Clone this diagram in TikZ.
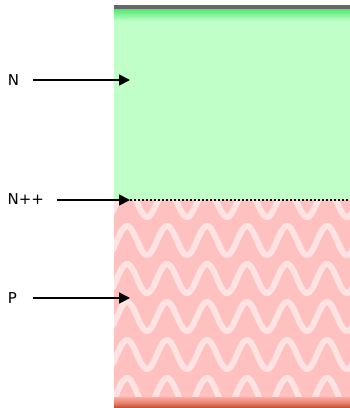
\documentclass[tikz,border=0pt]{standalone}
\usepackage{fontspec}
\setmainfont{DejaVu Sans}
\usetikzlibrary{arrows.meta}
\definecolor{nfill}{RGB}{192,255,200}
\definecolor{ntop}{RGB}{80,232,112}
\definecolor{pfill}{RGB}{255,192,192}
\definecolor{wavec}{RGB}{255,226,226}
\definecolor{pbot}{RGB}{196,72,40}
\definecolor{pmid}{RGB}{232,128,104}
\definecolor{topbar}{RGB}{102,102,102}
\tikzset{
  lbl/.style={inner sep=0pt, font=\fontsize{15}{17}\selectfont},
  pointer/.style={line width=1.6pt, -{Triangle[length=11pt,width=11pt]}},
  junction/.style={line width=1.5pt, dash pattern=on 2pt off 2pt},
  wave/.style={line width=6pt, wavec}
}
\begin{document}
\begin{tikzpicture}[x=1pt,y=-1pt]
\useasboundingbox (0,0) rectangle (350,408);
% N region
\fill[nfill] (114,9) rectangle (350,200);
\shade[top color=ntop,bottom color=nfill] (114,9) rectangle (350,21);
\fill[topbar] (114,5) rectangle (350,9);
% P region
\fill[pfill] (114,200) rectangle (350,398);
\begin{scope}
  \clip (114,200) rectangle (350,398);
  \foreach \c in {202.5,240.5,278.5,316.5,354.5,392.5}{
    \draw[wave] plot[domain=-33:233,samples=240] ({\x+127},{\c-14.5*cos(9*\x)});
  }
\end{scope}
\shade[top color=pfill!70!pmid,bottom color=pmid] (114,397) rectangle (350,403);
\shade[top color=pmid,bottom color=pbot] (114,403) rectangle (350,408);
% junction
\coordinate (jl) at (114,200);
\coordinate (jr) at (350,200);
\draw[junction] (jl) -- (jr);
% labels
\node[lbl] (lN) at (13.5,80) {N};
\node[lbl,anchor=west] (lNpp) at (7.5,199.5) {N++};
\node[lbl] (lP) at (12.5,298) {P};
\coordinate (aN) at (33,80);
\coordinate (tN) at (130,80);
\coordinate (aNpp) at (57,200);
\coordinate (tNpp) at (130,200);
\coordinate (aP) at (33,298);
\coordinate (tP) at (130,298);
\draw[pointer] (aN) -- (tN);
\draw[pointer] (aNpp) -- (tNpp);
\draw[pointer] (aP) -- (tP);
\end{tikzpicture}
\end{document}
